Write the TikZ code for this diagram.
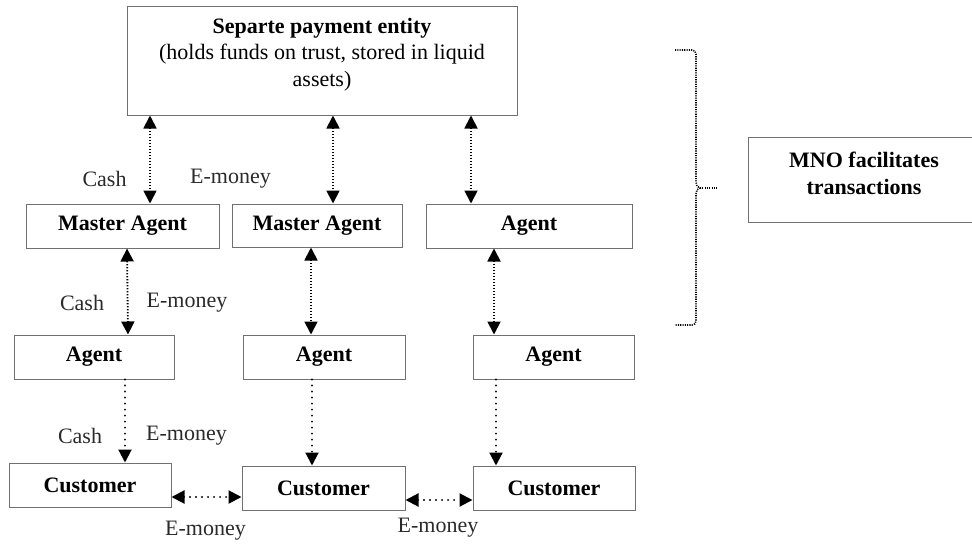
\documentclass[tikz,border=0pt]{standalone}
\usepackage{fontspec}
\setmainfont{Liberation Serif}
\usetikzlibrary{arrows.meta}
\definecolor{boxgray}{HTML}{707070}
\definecolor{labelgray}{HTML}{2A2A2A}
\begin{document}
\begin{tikzpicture}[x=1pt,y=-1pt,
  box/.style={draw=boxgray, line width=1pt, inner sep=0pt, font=\fontsize{22}{26.5}\selectfont\bfseries, align=center},
  txt/.style={inner sep=0pt, font=\fontsize{22}{26.5}\selectfont, align=center},
  lbl/.style={inner sep=0pt, font=\fontsize{22}{24}\selectfont, text=labelgray},
  densedots/.style={line width=1.8pt, dash pattern=on 1.4pt off 1.6pt},
  sparsedots/.style={line width=2.1pt, line cap=round, dash pattern=on 0.01pt off 6pt},
  bracedots/.style={line width=1.6pt, dash pattern=on 1.1pt off 1.2pt},
  tip/.style={-{Triangle[length=13pt,width=13pt]}},
  tips/.style={{Triangle[length=13pt,width=13pt]}-{Triangle[length=13pt,width=13pt]}}
]
\useasboundingbox (0,0) rectangle (972,544);

% payment entity at the top
\node[box, minimum width=390pt, minimum height=109pt] (top) at (322,60.5) {};
\node[txt] (toptext) at (322,54.5) {\textbf{Separte payment entity}\\(holds funds on trust, stored in liquid\\assets)};

% MNO box, running past the right edge
\node[box, minimum width=228pt, minimum height=85pt] (mno) at (862,179.5) {};
\node[box, draw=none] (mnotext) at (864,173.5) {MNO facilitates\\transactions};

% first row
\node[box, minimum width=193pt, minimum height=44pt] (ma1) at (122.5,226) {Master Agent};
\node[box, minimum width=170pt, minimum height=43pt] (ma2) at (317,225.5) {Master Agent};
\node[box, minimum width=206pt, minimum height=44pt] (ag0) at (529,226) {Agent};

% second row
\node[box, minimum width=160pt, minimum height=44pt] (ag1) at (94,357) {Agent};
\node[box, minimum width=162pt, minimum height=44pt] (ag2) at (324,357) {Agent};
\node[box, minimum width=161pt, minimum height=44pt] (ag3) at (553.5,357) {Agent};

% customers
\node[box, minimum width=162pt, minimum height=44pt] (c1) at (90,485) {Customer};
\node[box, minimum width=163pt, minimum height=44pt] (c2) at (323.5,488) {Customer};
\node[box, minimum width=162pt, minimum height=44pt] (c3) at (554,488) {Customer};

% entity <-> first row
\draw[densedots,tips] (top.south -| 150,0) -- (ma1.north -| 150,0);
\draw[densedots,tips] (top.south -| 333,0) -- (ma2.north -| 333,0);
\draw[densedots,tips] (top.south -| 471,0) -- (ag0.north -| 471,0);

% first row <-> second row
\draw[densedots,tips] (ma1.south -| 127,0) -- (ag1.north -| 128,0);
\draw[densedots,tips] (ma2.south -| 311,0) -- (ag2.north -| 311,0);
\draw[densedots,tips] (ag0.south -| 494,0) -- (ag3.north -| 494,0);

% agents -> customers
\draw[sparsedots,tip] (ag1.south -| 125,0) -- (c1.north -| 125,0);
\draw[sparsedots,tip] (ag2.south -| 312,0) -- (c2.north -| 312,0);
\draw[sparsedots,tip] (ag3.south -| 496,0) -- (c3.north -| 496,0);

% customer <-> customer
\draw[sparsedots,tips] (c1.east |- 0,497) -- (c2.west |- 0,497);
\draw[sparsedots,tips] (c2.east |- 0,500) -- (c3.west |- 0,500);

% flow labels
\node[lbl] (l1) at (104.5,179) {Cash};
\node[lbl] (l2) at (230.5,179) {E-money};
\node[lbl] (l3) at (82,303) {Cash};
\node[lbl] (l4) at (187,303) {E-money};
\node[lbl] (l5) at (80,436) {Cash};
\node[lbl] (l6) at (186.5,436) {E-money};
\node[lbl] (l7) at (205.5,531) {E-money};
\node[lbl] (l8) at (438,528) {E-money};

% dotted brace grouping the upper levels
\draw[bracedots]
  (675,50) -- (692,50) to[out=0,in=90] (696,54) -- (696,182)
  to[out=-90,in=180] (700,188) to[out=180,in=90] (696,194) -- (696,321)
  to[out=-90,in=0] (692,325) -- (675,325);
\coordinate (bracetip) at (700,188);
\draw[bracedots] (bracetip) -- (717,188);
\end{tikzpicture}
\end{document}
